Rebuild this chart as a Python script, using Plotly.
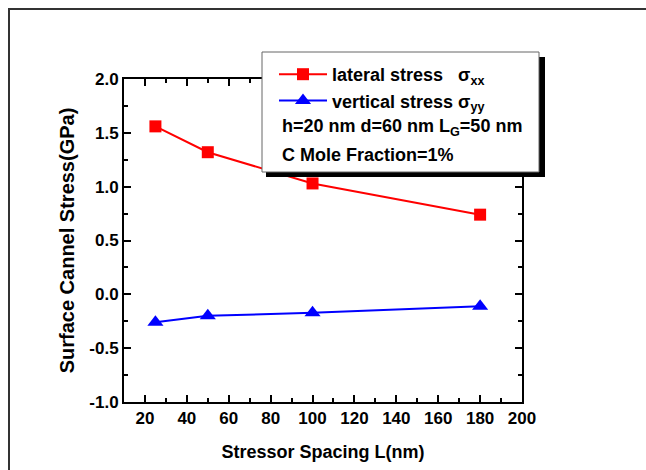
import plotly.graph_objects as go

spacing = [25, 50, 100, 180]
lateral = [1.56, 1.32, 1.03, 0.74]
vertical = [-0.26, -0.20, -0.17, -0.11]
ytick_vals = [-1.0, -0.5, 0.0, 0.5, 1.0, 1.5, 2.0]
ytick_text = ["-1.0", "-0.5", "0.0", "0.5", "1.0", "1.5", "2.0"]
xtick_vals = [20, 40, 60, 80, 100, 120, 140, 160, 180, 200]

FONT = "Liberation Sans, Arial, sans-serif"

# pixel geometry of plot area
L, R, T, B = 124, 522, 79, 402
W, H = 646, 470

def px(x):
    return (x - L) / (R - L)

def py(y):
    return (B - y) / (B - T)

fig = go.Figure()
fig.add_trace(go.Scatter(
    x=spacing, y=lateral, mode="lines+markers",
    name="lateral stress   σ<sub>xx</sub>",
    line=dict(color="#ff0000", width=2),
    marker=dict(symbol="square", size=12, color="#ff0000"),
))
fig.add_trace(go.Scatter(
    x=spacing, y=vertical, mode="lines+markers",
    name="vertical stress σ<sub>yy</sub>",
    line=dict(color="#0000ff", width=2),
    marker=dict(symbol="triangle-up", size=14, color="#0000ff"),
))

axis_common = dict(
    showline=True, linecolor="black", linewidth=2, mirror="ticks",
    ticks="inside", ticklen=7, tickwidth=2, tickcolor="black",
    showgrid=False, zeroline=False,
    tickfont=dict(family=FONT, size=17, color="black", weight="bold"),
)

fig.update_xaxes(
    range=[10, 200], tickvals=xtick_vals,
    minor=dict(ticks="inside", dtick=10, tick0=0, ticklen=4, tickwidth=2, tickcolor="black"),
    title=dict(text="Stressor Spacing L(nm)", standoff=18,
               font=dict(family=FONT, size=18, color="black", weight="bold")),
    **axis_common,
)
fig.update_yaxes(
    range=[-1, 2], tickvals=ytick_vals, ticktext=ytick_text,
    minor=dict(ticks="inside", dtick=0.25, tick0=0, ticklen=4, tickwidth=2, tickcolor="black"),
    title=dict(text="Surface Cannel Stress(GPa)", standoff=9,
               font=dict(family=FONT, size=20, color="black", weight="bold")),
    **axis_common,
)

shapes = [
    # outer frame
    dict(type="path", xref="paper", yref="paper",
         path=f"M {px(9)} {py(H)} L {px(9)} {py(9)} L {px(W)} {py(9)}",
         line=dict(color="#333333", width=2)),
    # legend shadow
    dict(type="rect", xref="paper", yref="paper",
         x0=px(266), x1=px(545), y0=py(177), y1=py(57),
         fillcolor="black", line=dict(width=0), layer="above"),
    # legend box
    dict(type="rect", xref="paper", yref="paper",
         x0=px(262), x1=px(539), y0=py(172), y1=py(52),
         fillcolor="white", line=dict(color="#666666", width=1), layer="above"),
]

annotations = [
    dict(text="h=20 nm d=60 nm L<sub>G</sub>=50 nm", xref="paper", yref="paper",
         x=px(280), y=py(127), xanchor="left", yanchor="middle", showarrow=False,
         font=dict(family=FONT, size=18, color="black", weight="bold")),
    dict(text="C Mole Fraction=1%", xref="paper", yref="paper",
         x=px(280), y=py(155), xanchor="left", yanchor="middle", showarrow=False,
         font=dict(family=FONT, size=18, color="black", weight="bold")),
]

fig.update_layout(
    width=W, height=H,
    margin=dict(l=L, r=W - R, t=T, b=H - B),
    paper_bgcolor="white", plot_bgcolor="white",
    shapes=shapes, annotations=annotations,
    showlegend=True,
    legend=dict(x=px(274), y=py(56), xanchor="left", yanchor="top",
                bgcolor="rgba(0,0,0,0)", borderwidth=0, itemwidth=48,
                tracegroupgap=0,
                font=dict(family=FONT, size=18, color="black", weight="bold")),
)

fig.write_html("out.html")
